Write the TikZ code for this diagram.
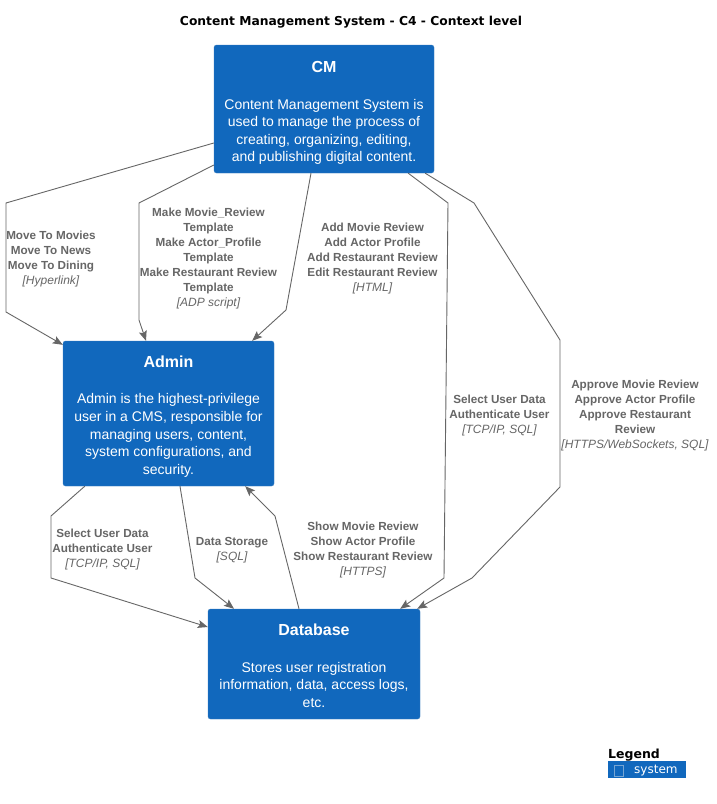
\documentclass[tikz,border=0pt]{standalone}
\usepackage{fontspec}
\setmainfont{Liberation Sans}
\newfontfamily\dejavu{DejaVu Sans}
\usetikzlibrary{arrows.meta}

\definecolor{sysblue}{HTML}{1168BD}
\definecolor{sysedge}{HTML}{3C7FC0}
\definecolor{relgray}{HTML}{666666}
\newcommand\techlbl[1]{{\fontsize{12}{15}\selectfont\mdseries\itshape #1}}
\newcommand\systitle[2][19.5pt]{{\rule{0pt}{#1}\fontsize{16}{19}\selectfont\bfseries #2}}

\begin{document}
\begin{tikzpicture}[x=1pt,y=-1pt,
    sys/.style={rectangle, fill=sysblue, draw=sysedge, rounded corners=2.5pt, text=white,
      align=center, inner sep=0pt, font=\fontsize{14}{17.6}\selectfont},
    rel/.style={draw=relgray, line width=0.9pt, -{Stealth[length=10pt,width=8pt,inset=2pt]}},
    lbl/.style={text=relgray, align=center, inner sep=0pt, font=\fontsize{11.7}{15}\selectfont\bfseries}]
    \useasboundingbox[fill=white] (0,0) rectangle (716,804);

    \node[font=\dejavu\bfseries\fontsize{12.3}{15}\selectfont] (title) at (351,22) {Content Management System - C4 - Context level};

    % systems
    \node[sys, minimum width=220pt, minimum height=128pt] (cm) at (324,109)
      {\systitle{CM}\\[18.9pt]Content Management System is\\used to manage the process of\\creating, organizing, editing,\\and publishing digital content.};
    \node[sys, minimum width=211pt, minimum height=145pt] (admin) at (168.5,413.5)
      {\systitle[17.5pt]{Admin}\\[18.9pt]Admin is the highest-privilege\\user in a CMS, responsible for\\managing users, content,\\system configurations, and\\security.};
    \node[sys, minimum width=212pt, minimum height=110pt] (db) at (314,664)
      {\systitle[15.5pt]{Database}\\[18.9pt]Stores user registration\\information, data, access logs,\\etc.};

    % relations
    \draw[rel] ([yshift=-34pt]cm.west) -- (6,203) -- (6,312) -- ([yshift=-4pt]admin.north west);
    \draw[rel] ([yshift=-56pt]cm.west) -- (139,203) -- (139,320) -- ([xshift=-22.5pt]admin.north);
    \draw[rel] ([xshift=-13pt]cm.south) -- (286,310) -- ([xshift=-22pt]admin.north east);
    \draw[rel] ([xshift=-26pt]cm.south east) -- (448,203) -- (444,578) -- ([xshift=-20pt]db.north east);
    \draw[rel] ([xshift=-9pt]cm.south east) -- (474,203) -- (560,340) -- (560,487) -- (472,578) -- ([xshift=-3pt]db.north east);
    \draw[rel] ([xshift=22pt]admin.south west) -- (51,516) -- (51,578) -- ([yshift=37pt]db.west);
    \draw[rel] ([xshift=11.5pt]admin.south) -- (195,578) -- ([xshift=-80pt]db.north);
    \draw[rel] ([xshift=-15pt]db.north) -- (275,516) -- ([xshift=-29pt]admin.south east);

    \node[lbl] (navlbl) at (51,258.5) {Move To Movies\\Move To News\\Move To Dining\\\techlbl{[Hyperlink]}};
    \node[lbl] (tpllbl) at (208.5,258.5) {Make Movie\_Review\\Template\\Make Actor\_Profile\\Template\\Make Restaurant Review\\Template\\\techlbl{[ADP script]}};
    \node[lbl] (addlbl) at (372.5,258.5) {Add Movie Review\\Add Actor Profile\\Add Restaurant Review\\Edit Restaurant Review\\\techlbl{[HTML]}};
    \node[lbl] (authlbl) at (499.5,415.5) {Select User Data\\Authenticate User\\\techlbl{[TCP/IP, SQL]}};
    \node[lbl] (apprlbl) at (635,415.5) {Approve Movie Review\\Approve Actor Profile\\Approve Restaurant\\Review\\\techlbl{[HTTPS/WebSockets, SQL]}};
    \node[lbl] (adminauthlbl) at (102.5,549.5) {Select User Data\\Authenticate User\\\techlbl{[TCP/IP, SQL]}};
    \node[lbl] (storelbl) at (232,550) {Data Storage\\\techlbl{[SQL]}};
    \node[lbl] (showlbl) at (363,550) {Show Movie Review\\Show Actor Profile\\Show Restaurant Review\\\techlbl{[HTTPS]}};

    % legend
    \node[anchor=west, inner sep=0pt, font=\dejavu\bfseries\fontsize{12.5}{15}\selectfont] (legend) at (608,755) {Legend};
    \node[fill=sysblue, minimum width=78pt, minimum height=17pt, inner sep=0pt] (legsys) at (647,769.5) {};
    \node[draw=sysedge!70!white, line width=0.6pt, minimum width=9pt, minimum height=11pt, inner sep=0pt] (legicon) at (618.5,770.5) {};
    \node[anchor=west, inner sep=0pt, text=white, font=\dejavu\fontsize{12}{14}\selectfont] (legtext) at (634,771) {system};
\end{tikzpicture}
\end{document}
